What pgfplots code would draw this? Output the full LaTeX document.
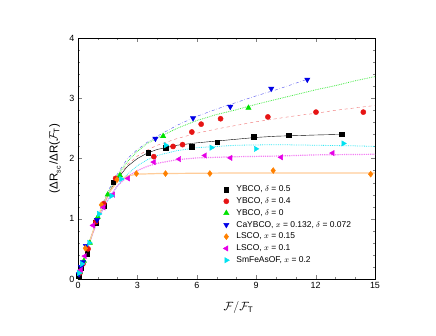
\documentclass[border=0pt]{standalone}
\usepackage{pgfplots}
\pgfplotsset{compat=1.18}
\usepackage{fontspec}
\setmainfont{Liberation Sans}
\setsansfont{Liberation Sans}
\definecolor{cblue}{RGB}{0,0,230}
\definecolor{cred}{RGB}{230,20,20}
\definecolor{cgreen}{RGB}{0,225,0}
\definecolor{corange}{RGB}{255,128,0}
\definecolor{cmag}{RGB}{230,0,230}
\definecolor{ccyan}{RGB}{0,225,240}
\begin{document}
\begin{tikzpicture}
\begin{axis}[name=ax,
  scale only axis, width=297bp, height=241bp,
  xmin=0, xmax=15, ymin=0, ymax=4,
  xtick={0,3,...,15}, ytick={0,1,2,3,4},
  minor x tick num=2, minor y tick num=4,
  tick align=inside, tick pos=both,
  major tick length=4pt, minor tick length=2pt,
  tick label style={font=\fontsize{9}{10}\selectfont},
  /pgf/number format/assume math mode=true,
  xlabel={$\mathcal{F}/\mathcal{F}_{\mathrm{T}}$},
  ylabel={(ΔR\raisebox{-0.5ex}{\fontsize{7}{8}\selectfont sc}\,/ΔR($\mathcal{F}_{\mathrm{T}}$)},
  label style={font=\fontsize{11.5}{13}\selectfont},
  xlabel style={yshift=-6pt, xshift=12pt},
  ylabel style={yshift=2pt},
  legend style={draw=none, fill=none, at={(rel axis cs:0.485,0.40)}, anchor=north west,
    font=\fontsize{8.5}{10}\selectfont, row sep=0.4pt, inner sep=1pt,
    /tikz/every odd column/.append style={column sep=5pt}},
  legend cell align=left,
  every axis plot/.append style={mark size=2.6pt},
]
% fit lines
\addplot[forget plot, black, thin] coordinates {(0,0)(0.25,0.26)(0.5,0.52)(0.75,0.77)(1,1.0)(1.25,1.2)(1.5,1.38)(1.75,1.54)(2,1.67)(2.5,1.87)(3,2.0)(3.5,2.09)(4,2.15)(5,2.22)(6,2.26)(7,2.29)(8,2.32)(9,2.35)(10,2.37)(11,2.38)(12,2.39)(13.3,2.40)};
\addplot[forget plot, cred!60, dashed] coordinates {(0,0)(0.25,0.26)(0.5,0.52)(0.75,0.78)(1,1.02)(1.5,1.4)(2,1.70)(2.5,1.9)(3,2.04)(3.5,2.14)(4,2.22)(5,2.33)(6,2.42)(7,2.49)(8,2.55)(9,2.61)(10,2.66)(11,2.71)(12,2.75)(13,2.8)(14,2.84)(15,2.88)};
\addplot[forget plot, cgreen!75, densely dotted, thick] coordinates {(0,0)(0.25,0.27)(0.5,0.53)(1,1.03)(1.5,1.42)(2,1.72)(2.5,1.95)(3,2.12)(3.5,2.25)(4,2.34)(5,2.50)(6,2.63)(7,2.73)(8,2.81)(9,2.9)(10,2.98)(11,3.06)(12,3.14)(13,3.21)(14,3.29)(15,3.36)};
\addplot[forget plot, cblue!70, dash dot] coordinates {(0,0)(0.25,0.28)(0.5,0.55)(1,1.05)(1.5,1.45)(2,1.75)(2.5,2.0)(3,2.15)(3.5,2.27)(4,2.37)(5,2.55)(6,2.70)(7,2.82)(8,2.93)(9,3.04)(10,3.14)(11,3.25)(11.7,3.33)};
\addplot[forget plot, ccyan!80, densely dotted, thick] coordinates {(0,0)(0.25,0.27)(0.5,0.53)(1,0.99)(1.5,1.3)(2,1.55)(2.5,1.74)(3,1.88)(3.5,1.98)(4,2.05)(5,2.13)(6,2.18)(7,2.2)(8,2.22)(10,2.23)(12,2.22)(14,2.21)(15,2.2)};
\addplot[forget plot, cmag!50, densely dotted, very thick] coordinates {(0,0)(0.25,0.27)(0.5,0.53)(1,0.99)(1.5,1.32)(2,1.55)(2.5,1.7)(3,1.8)(3.5,1.87)(4,1.92)(5,1.98)(6,2.01)(8,2.03)(10,2.04)(12,2.06)(15,2.07)};
\addplot[forget plot, corange!40, very thick] coordinates {(0,0)(0.25,0.28)(0.5,0.54)(1,1.02)(1.5,1.4)(2,1.62)(2.5,1.71)(3,1.74)(4,1.75)(8,1.76)(15,1.76)};
% data
\addplot[only marks, mark=square*, black, mark size=2.3pt] coordinates {(0.05,0.05)(0.15,0.18)(0.46,0.42)(0.89,0.93)(1.32,1.22)(1.77,1.61)(3.54,2.10)(4.43,2.18)(5.75,2.20)(7.03,2.27)(8.88,2.36)(10.64,2.39)(13.33,2.40)};
\addlegendentry{YBCO, $\delta$ = 0.5}
\addplot[only marks, mark=*, cred] coordinates {(0.1,0.1)(0.25,0.25)(0.51,0.50)(0.9,0.95)(1.3,1.25)(1.9,1.67)(3.83,2.03)(4.80,2.20)(5.28,2.23)(5.75,2.44)(6.22,2.57)(7.20,2.66)(9.59,2.69)(12.02,2.77)(14.41,2.77)};
\addlegendentry{YBCO, $\delta$ = 0.4}
\addplot[only marks, mark=triangle*, cgreen, mark size=3.1pt] coordinates {(0.1,0.12)(0.3,0.3)(0.6,0.6)(1.0,1.03)(1.5,1.4)(2.12,1.72)(4.30,2.37)(8.61,2.84)};
\addlegendentry{YBCO, $\delta$ = 0}
\addplot[only marks, mark=triangle*, mark options={rotate=180}, cblue, mark size=3.1pt] coordinates {(0.05,0.08)(0.15,0.2)(0.25,0.28)(0.4,0.55)(0.96,0.98)(3.91,2.33)(5.81,2.67)(7.69,2.86)(9.76,3.16)(11.58,3.31)};
\addlegendentry{CaYBCO, $x$ = 0.132, $\delta$ = 0.072}
\addplot[only marks, mark=diamond*, corange, mark size=3pt] coordinates {(0.1,0.12)(0.37,0.51)(1.18,1.23)(1.97,1.65)(2.95,1.75)(4.42,1.75)(6.66,1.75)(9.86,1.80)(14.78,1.74)};
\addlegendentry{LSCO, $x$ = 0.15}
\addplot[only marks, mark=triangle*, mark options={rotate=90}, cmag, mark size=3.1pt] coordinates {(0.15,0.15)(0.35,0.38)(0.76,0.89)(1.29,1.19)(1.77,1.40)(2.53,1.67)(3.83,1.94)(5.11,1.99)(6.41,2.05)(7.70,2.01)(10.26,2.02)(12.86,2.09)};
\addlegendentry{LSCO, $x$ = 0.1}
\addplot[only marks, mark=triangle*, mark options={rotate=-90}, ccyan, mark size=3.1pt] coordinates {(0.05,0.1)(0.2,0.25)(0.56,0.6)(1.06,1.08)(1.69,1.38)(2.18,1.66)(4.43,2.22)(6.74,2.18)(8.98,2.16)(13.40,2.25)};
\addlegendentry{SmFeAsOF, $x$ = 0.2}
\end{axis}
\path (ax.south west) +(-78bp,-57bp) coordinate (bbA);
\path (ax.south west) +(358bp,279bp) coordinate (bbB);
\useasboundingbox (bbA) rectangle (bbB);
\end{tikzpicture}
\end{document}
